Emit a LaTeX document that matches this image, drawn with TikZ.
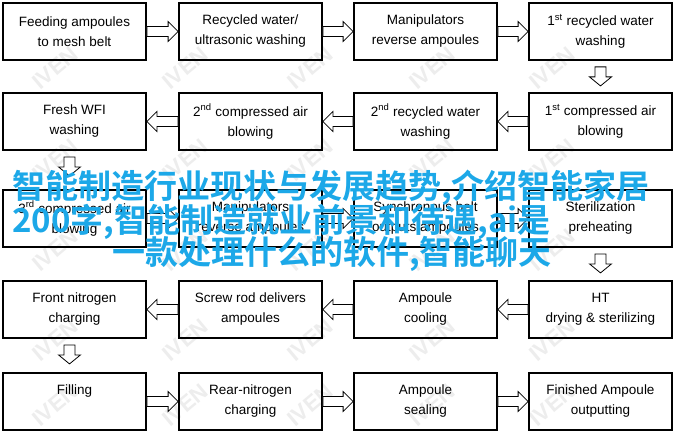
\documentclass[tikz,border=0pt]{standalone}
\usepackage{fontspec}
\setmainfont{Liberation Sans}
\newfontfamily\cjkfont{Noto Sans CJK SC}[BoldFont={* Bold}]
\usetikzlibrary{calc}
\definecolor{overlaycyan}{RGB}{28,168,232}
\tikzset{
  stepbox/.style={draw=black, line width=1.8pt, minimum width=143pt, minimum height=57pt,
    inner sep=0pt, align=center, font=\fontsize{13.5}{20}\selectfont},
  hollowarrow/.style={draw=black, line width=0.8pt, fill=white, line join=miter},
  overlay text/.style={anchor=west, inner sep=0pt, text=overlaycyan,
    font=\cjkfont\bfseries\fontsize{33}{33}\selectfont},
  watermark/.style={text=black!7, rotate=40, font=\bfseries\fontsize{22}{22}\selectfont}
}
% right-pointing hollow arrow from #1.east to #2.west
\newcommand{\rarrow}[2]{%
  \draw[hollowarrow] ($(#1.east)+(0,-5)$) -- ($(#2.west)+(-10,-5)$) -- ($(#2.west)+(-10,-10)$)
    -- (#2.west) -- ($(#2.west)+(-10,10)$) -- ($(#2.west)+(-10,5)$) -- ($(#1.east)+(0,5)$) -- cycle;}
% left-pointing hollow arrow from #1.west to #2.east
\newcommand{\larrow}[2]{%
  \draw[hollowarrow] ($(#1.west)+(0,-5)$) -- ($(#2.east)+(10,-5)$) -- ($(#2.east)+(10,-10)$)
    -- (#2.east) -- ($(#2.east)+(10,10)$) -- ($(#2.east)+(10,5)$) -- ($(#1.west)+(0,5)$) -- cycle;}
% downward hollow arrow below #1 towards #2, x shift #3
\newcommand{\darrow}[3]{%
  \draw[hollowarrow] ($(#1.south)+(#3-5.5,6)$) -- ($(#1.south)+(#3-5.5,16)$) -- ($(#1.south)+(#3-11,16)$)
    -- ($(#1.south)+(#3,25)$) -- ($(#1.south)+(#3+11,16)$) -- ($(#1.south)+(#3+5.5,16)$)
    -- ($(#1.south)+(#3+5.5,6)$) -- cycle;}
\begin{document}
\begin{tikzpicture}[x=1pt,y=-1pt]
\useasboundingbox[fill=white] (0,0) rectangle (683,436);
% watermarks
\foreach \wy in {68,160,250,340,405}{
  \foreach \wx in {55,185,310,432,552}{
    \node[watermark] at (\wx,\wy) {IVEN};
  }
}
% row 1
\node[stepbox] (b11) at (74.5,31.5) {Feeding ampoules\\to mesh belt};
\node[stepbox] (b12) at (250.5,31.5) {Recycled water/\\ultrasonic washing};
\node[stepbox] (b13) at (425.5,31.5) {Manipulators\\reverse ampoules};
\node[stepbox] (b14) at (600.5,31.5) {1\textsuperscript{st} recycled water\\washing};
% row 2
\node[stepbox] (b21) at (74.5,121.5) {Fresh WFI\\washing};
\node[stepbox] (b22) at (250.5,121.5) {2\textsuperscript{nd} compressed air\\blowing};
\node[stepbox] (b23) at (425.5,121.5) {2\textsuperscript{nd} recycled water\\washing};
\node[stepbox] (b24) at (600.5,121.5) {1\textsuperscript{st} compressed air\\blowing};
% row 3
\node[stepbox] (b31) at (74.5,218.5) {3\textsuperscript{rd} compressed air\\blowing};
\node[stepbox] (b32) at (250.5,218.5) {Manipulators\\reverse ampoules};
\node[stepbox] (b33) at (425.5,218.5) {Synchronous belt\\outputs ampoules};
\node[stepbox] (b34) at (600.5,218.5) {Sterilization\\preheating};
% row 4
\node[stepbox] (b41) at (74.5,309.5) {Front nitrogen\\charging};
\node[stepbox] (b42) at (250.5,309.5) {Screw rod delivers\\ampoules};
\node[stepbox] (b43) at (425.5,309.5) {Ampoule\\cooling};
\node[stepbox] (b44) at (600.5,309.5) {HT\\drying \& sterilizing};
% row 5
\node[stepbox] (b51) at (74.5,401.5) {Filling\\\phantom{g}};
\node[stepbox] (b52) at (250.5,401.5) {Rear-nitrogen\\charging};
\node[stepbox] (b53) at (425.5,401.5) {Ampoule\\sealing};
\node[stepbox] (b54) at (600.5,401.5) {Finished Ampoule\\outputting};
% arrows
\rarrow{b11}{b12} \rarrow{b12}{b13} \rarrow{b13}{b14}
\darrow{b14}{b24}{0}
\larrow{b24}{b23} \larrow{b23}{b22} \larrow{b22}{b21}
\darrow{b21}{b31}{-5}
\rarrow{b31}{b32} \rarrow{b32}{b33} \rarrow{b33}{b34}
\darrow{b34}{b44}{0}
\larrow{b44}{b43} \larrow{b43}{b42} \larrow{b42}{b41}
\darrow{b41}{b51}{-5}
\rarrow{b51}{b52} \rarrow{b52}{b53} \rarrow{b53}{b54}
% overlay text
\node[overlay text] (t1) at (12,188) {智能制造行业现状与发展趋势,介绍智能家居};
\node[overlay text] (t2) at (12,222) {200字,智能制造就业前景和待遇,ai是};
\node[overlay text] (t3) at (112,254) {一款处理什么的软件,智能聊天};
\end{tikzpicture}
\end{document}
